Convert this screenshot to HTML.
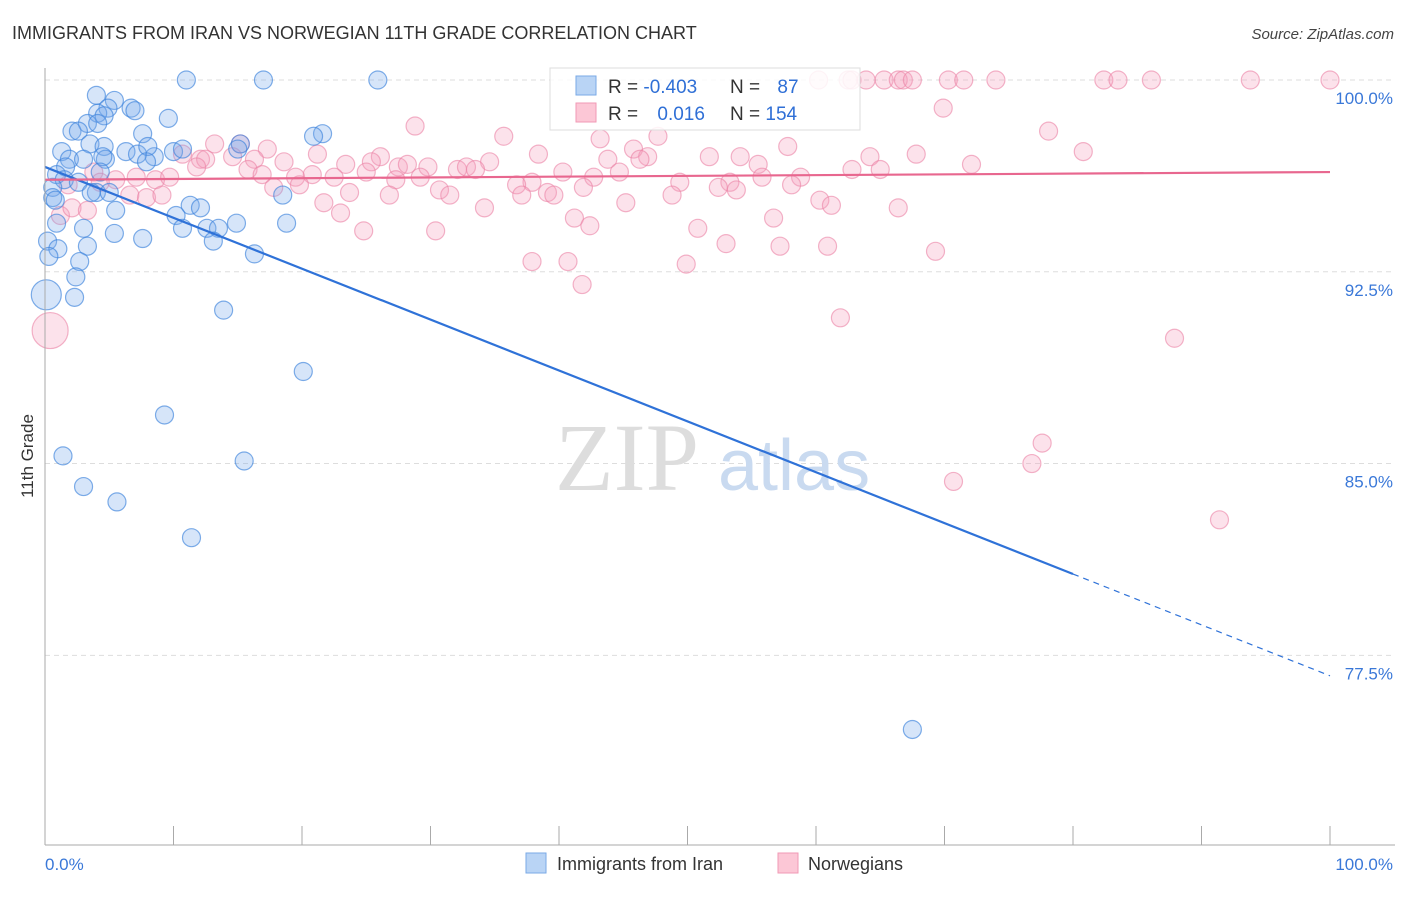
<!DOCTYPE html>
<html><head><meta charset="utf-8"><style>
body{margin:0;background:#fff;font-family:"Liberation Sans",sans-serif}
</style></head><body>
<svg id="chart" width="1406" height="892" xmlns="http://www.w3.org/2000/svg" style="font-family:'Liberation Sans',sans-serif">
<text x="12" y="39" font-size="18" fill="#333">IMMIGRANTS FROM IRAN VS NORWEGIAN 11TH GRADE CORRELATION CHART</text>
<text x="1394" y="39" font-size="15" fill="#444" text-anchor="end" font-style="italic">Source: ZipAtlas.com</text>
<g id="grid"></g>
<text x="555" y="490" font-size="96" fill="#ddd" font-family="'Liberation Serif',serif">ZIP</text>
<text x="718" y="490" font-size="72" fill="#c9daf0">atlas</text>
<g id="pts"></g>
<g id="lines"></g>
<line x1="45" y1="68" x2="45" y2="845" stroke="#aaa"/>
<line x1="45" y1="845" x2="1395" y2="845" stroke="#aaa"/>
<g id="axes"></g>
<text transform="translate(33,456) rotate(-90)" font-size="17" fill="#333" text-anchor="middle">11th Grade</text>
<g>
<rect x="550" y="68" width="310" height="62" fill="#fff" fill-opacity="0.85" stroke="#ddd"/>
<rect x="576" y="76" width="20" height="19" fill="#b9d4f5" stroke="#7aaae6"/>
<rect x="576" y="103" width="20" height="19" fill="#fcc7d6" stroke="#f19ab5"/>
<text x="608" y="93" font-size="19" fill="#333">R = <tspan fill="#2f6fd6">-0.403</tspan></text>
<text x="730" y="93" font-size="19" fill="#333">N = <tspan fill="#2f6fd6" dx="12">87</tspan></text>
<text x="608" y="120" font-size="19" fill="#333">R = <tspan fill="#2f6fd6" dx="14">0.016</tspan></text>
<text x="730" y="120" font-size="19" fill="#333">N = <tspan fill="#2f6fd6">154</tspan></text>
</g>
<g>
<rect x="526" y="853" width="20" height="20" fill="#b9d4f5" stroke="#7aaae6"/>
<text x="557" y="870" font-size="18" fill="#333">Immigrants from Iran</text>
<rect x="778" y="853" width="20" height="20" fill="#fcc7d6" stroke="#f19ab5"/>
<text x="808" y="870" font-size="18" fill="#333">Norwegians</text>
</g>
</svg>
<script>
const yTicks=[100,92.5,85,77.5];
const yTickLabels=["100.0%","92.5%","85.0%","77.5%"];
const xTicks=[0,10,20,30,40,50,60,70,80,90,100];
const blueX=[11.0,17.0,25.9,4.0,5.4,4.9,6.7,7.0,4.1,4.6,9.6,3.3,4.1,2.1,2.6,7.6,21.6,20.9,3.5,15.2,1.3,4.6,6.3,8.5,10.0,10.7,7.2,8.0,1.9,3.0,4.7,4.5,7.9,15.0,1.6,0.9,4.3,1.5,2.6,0.6,4.0,5.0,3.6,0.6,18.5,0.8,5.5,11.3,12.1,10.2,14.9,0.9,18.8,3.0,10.7,12.6,13.5,5.4,7.6,13.1,3.3,0.2,1.0,16.3,0.3,2.7,2.4,0.1,2.3,13.9,20.1,9.3,1.4,15.5,3.0,5.6,11.4,67.5];
const blueY=[100,100,100,99.4,99.2,98.9,98.9,98.8,98.7,98.6,98.5,98.3,98.3,98.0,98.0,97.9,97.9,97.8,97.5,97.5,97.2,97.4,97.2,97.0,97.2,97.3,97.1,97.4,96.9,96.9,96.9,97.0,96.8,97.3,96.6,96.3,96.4,96.1,96.0,95.8,95.6,95.6,95.6,95.4,95.5,95.3,94.9,95.1,95.0,94.7,94.4,94.4,94.4,94.2,94.2,94.2,94.2,94.0,93.8,93.7,93.5,93.7,93.4,93.2,93.1,92.9,92.3,91.6,91.5,91.0,88.6,86.9,85.3,85.1,84.1,83.5,82.1,74.6];
const pinkX=[69.9,78.1,35.7,47.7,43.2,13.2,15.2,17.3,80.8,45.8,46.9,57.8,38.4,64.2,67.8,51.7,54.1,10.7,12.1,12.5,14.6,16.3,18.6,21.2,26.1,23.4,25.4,27.5,28.2,29.8,43.8,46.3,55.5,72.1,34.6,32.1,32.8,33.5,40.3,62.8,65.0,3.8,5.5,7.1,8.6,9.7,11.8,15.8,16.9,19.5,20.8,22.5,25.0,27.3,29.2,44.7,42.7,49.4,53.3,55.8,58.8,30.7,37.9,1.8,4.3,6.6,7.9,9.1,17.8,19.8,23.7,36.7,39.1,41.9,48.8,52.4,53.8,58.1,31.5,37.1,39.6,26.8,45.2,60.3,61.2,21.7,23.0,34.2,66.4,1.2,41.2,42.4,56.7,50.8,24.8,30.4,53.0,57.2,60.9,69.3,37.9,40.7,49.9,41.8,61.9,87.9,0.4,77.6,76.8,70.7,91.4,2.1,60.2,62.5,62.8,63.9,65.3,66.4,66.8,67.5,70.3,71.5,74.0,82.4,83.5,86.1,93.8,100,28.8,3.3];
const pinkY=[98.9,98.0,97.8,97.8,97.7,97.5,97.5,97.3,97.2,97.3,97.0,97.4,97.1,97.0,97.1,97.0,97.0,97.1,96.9,96.9,97.0,96.9,96.8,97.1,97.0,96.7,96.8,96.6,96.7,96.6,96.9,96.9,96.7,96.7,96.8,96.5,96.6,96.5,96.4,96.5,96.5,96.4,96.1,96.2,96.1,96.2,96.6,96.5,96.3,96.2,96.3,96.2,96.4,96.1,96.2,96.4,96.2,96.0,96.0,96.2,96.2,95.7,96.0,95.9,96.0,95.5,95.4,95.5,95.8,95.9,95.6,95.9,95.6,95.8,95.5,95.8,95.7,95.9,95.5,95.5,95.5,95.5,95.2,95.3,95.1,95.2,94.8,95.0,95.0,94.7,94.6,94.3,94.6,94.2,94.1,94.1,93.6,93.5,93.5,93.3,92.9,92.9,92.8,92.0,90.7,89.9,90.2,85.8,85.0,84.3,82.8,95.0,100,100,100,100,100,100,100,100,100,100,100,100,100,100,100,100,98.2,94.9];
const blueBig={0:0,67:20,1:0};
const blueFit=[96.6,-0.199];
const pinkFit=[96.1,0.003];
const NS="http://www.w3.org/2000/svg";
const sx=v=>45+v*12.85, sy=v=>80+(100-v)*25.57;
function mk(t,a,p){const e=document.createElementNS(NS,t);for(const k in a)e.setAttribute(k,a[k]);p.appendChild(e);return e;}
const grid=document.getElementById('grid'),axes=document.getElementById('axes'),pts=document.getElementById('pts'),lines=document.getElementById('lines');
yTicks.forEach((t,i)=>{
 const g=mk('line',{x1:45,x2:1395,y1:sy(t),y2:sy(t),stroke:'#ddd','stroke-dasharray':'5,4'},grid);
 
 
 const l=mk('text',{x:1393,y:sy(t)+24,'font-size':17,fill:'#3a78d8','text-anchor':'end'},axes);
 l.textContent=yTickLabels[i];
 
 
});
xTicks.forEach(t=>{
 const k=mk('line',{x1:sx(t),x2:sx(t),y1:826,y2:845,stroke:'#aaa'},axes);
 
 
});
[[0,"0.0%","start",45],[100,"100.0%","end",1393]].forEach(d=>{
 const l=mk('text',{x:d[3],y:870,'font-size':17,fill:'#3a78d8','text-anchor':d[2]},axes);
 l.textContent=d[1];
 
 
});
pinkX.forEach((x,i)=>{
 const r=(i===106)?18:9;
 const c=mk('circle',{cx:sx(x),cy:sy(pinkY[i]),r:r,fill:'rgba(245,160,190,0.3)',stroke:'rgba(235,130,165,0.6)','stroke-width':1.2},pts);
 
 
});
blueX.forEach((x,i)=>{
 const r=(i===67)?15:9;
 const c=mk('circle',{cx:sx(x),cy:sy(blueY[i]),r:r,fill:'rgba(120,170,235,0.3)',stroke:'rgba(60,130,220,0.65)','stroke-width':1.2},pts);
 
 
});
const fb=x=>blueFit[0]+blueFit[1]*x, fp=x=>pinkFit[0]+pinkFit[1]*x;
let l1=mk('line',{x1:sx(0),y1:sy(fb(0)),x2:sx(80),y2:sy(fb(80)),stroke:'#2f72d8','stroke-width':2.2},lines);


let l2=mk('line',{x1:sx(80),y1:sy(fb(80)),x2:sx(100),y2:sy(fb(100)),stroke:'#2f72d8','stroke-width':1.2,'stroke-dasharray':'6,5'},lines);


let l3=mk('line',{x1:sx(0),y1:sy(fp(0)),x2:sx(100),y2:sy(fp(100)),stroke:'#e8678f','stroke-width':2.2},lines);


</script>
</body></html>
